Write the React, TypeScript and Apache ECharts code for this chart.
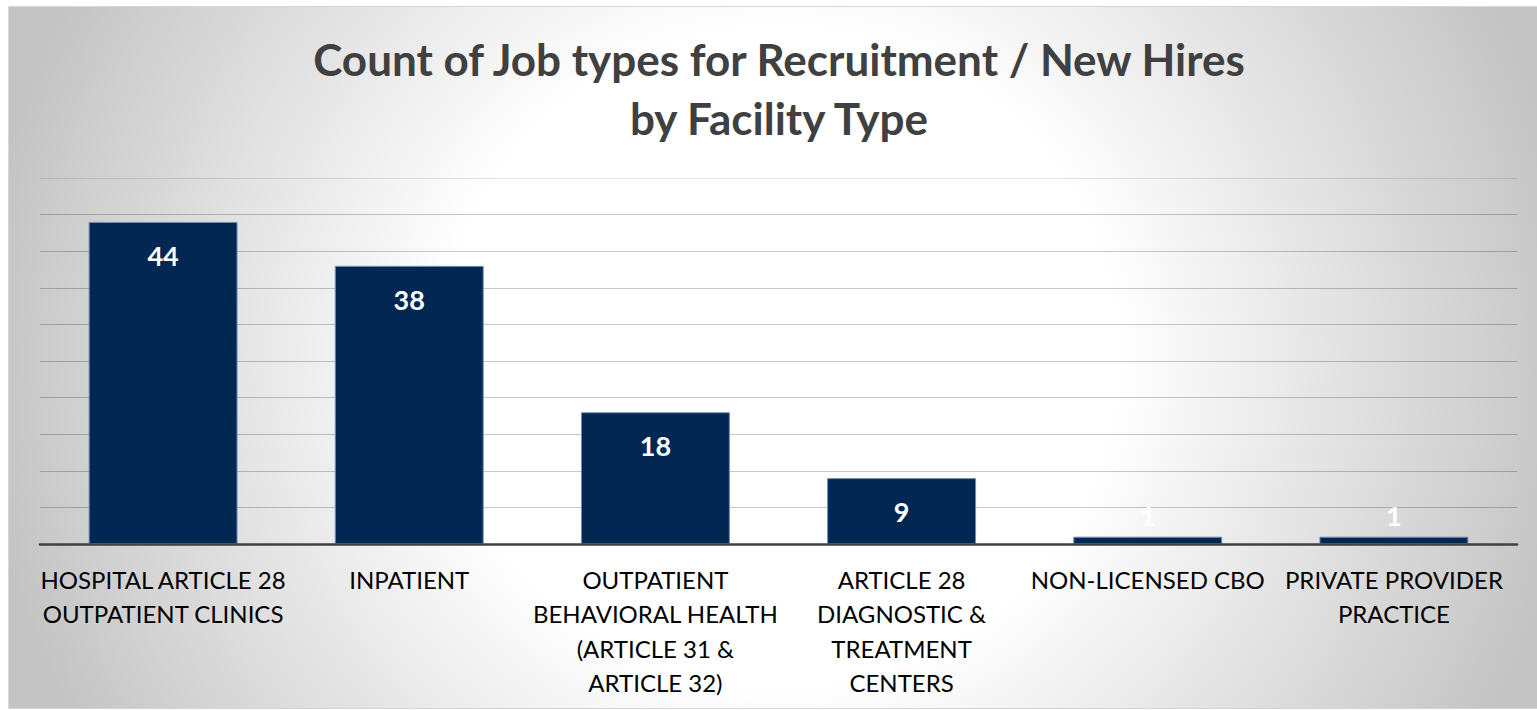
import React, { useEffect, useRef } from 'react';
import * as echarts from 'echarts';

// ---- data ----
const categories = [
  'HOSPITAL ARTICLE 28\nOUTPATIENT CLINICS',
  'INPATIENT',
  'OUTPATIENT\nBEHAVIORAL HEALTH\n(ARTICLE 31 &\nARTICLE 32)',
  'ARTICLE 28\nDIAGNOSTIC &\nTREATMENT\nCENTERS',
  'NON-LICENSED CBO',
  'PRIVATE PROVIDER\nPRACTICE',
];
const counts = [44, 38, 18, 9, 1, 1];
const titleLines = ['Count of Job types for Recruitment / New Hires', 'by Facility Type'];
const yMin = 0;
const yMax = 50;
const yStep = 5;

const W = 1537;
const H = 710;

const bgSvg =
  "<svg xmlns='http://www.w3.org/2000/svg' width='1528' height='701' viewBox='0 0 1528 701'>" +
  "<defs><radialGradient id='g' gradientUnits='userSpaceOnUse' cx='0' cy='0' r='1' gradientTransform='translate(771 350) scale(800 780)'>" +
  "<stop offset='0' stop-color='#ffffff'/><stop offset='0.42' stop-color='#ffffff'/><stop offset='1' stop-color='#c4c4c4'/>" +
  "</radialGradient></defs><rect x='0' y='0' width='1528' height='701' fill='url(#g)'/></svg>";
const bgUrl = 'data:image/svg+xml;charset=utf-8,' + encodeURIComponent(bgSvg);

export default function App() {
  const ref = useRef<HTMLDivElement>(null);

  useEffect(() => {
    if (!ref.current) return;
    const chart = echarts.init(ref.current, undefined, { renderer: 'svg', width: W, height: H });

    const nSplit = Math.round((yMax - yMin) / yStep);
    const splitColors: string[] = [];
    for (let i = 0; i <= nSplit; i++) splitColors.push(i === nSplit ? 'rgba(0,0,0,0.1)' : 'rgba(0,0,0,0.22)');

    const barData = counts.map((v) =>
      v < 3
        ? { value: v, label: { position: 'top', distance: 8 } }
        : { value: v }
    );

    chart.setOption({
      animation: false,
      graphic: {
        elements: [
          {
            type: 'image',
            z: -10,
            silent: true,
            style: { image: bgUrl, x: 9, y: 7, width: 1528, height: 701 },
          },
          {
            type: 'rect',
            z: -9,
            silent: true,
            shape: { x: 8.5, y: 6.5, width: 1530, height: 702 },
            style: { fill: 'none', stroke: '#d6d6d6', lineWidth: 1 },
          },
          {
            type: 'text',
            z: 10,
            x: 779,
            y: 29,
            style: {
              text: titleLines.join('\n'),
              fontFamily: 'Lato',
              fontWeight: 'bold',
              fontSize: 44,
              lineHeight: 59,
              fill: '#404040',
              align: 'center',
              verticalAlign: 'top',
            },
          },
        ],
      },
      grid: { left: 40, right: 20, top: 178, bottom: H - 544 },
      xAxis: {
        type: 'category',
        data: categories,
        axisTick: { show: false },
        axisLine: { show: true, lineStyle: { color: '#404040', width: 2.5 } },
        axisLabel: {
          interval: 0,
          margin: 18,
          color: '#000000',
          fontFamily: 'Lato',
          fontSize: 24,
          lineHeight: 34.5,
          align: 'center',
        },
        z: 5,
      },
      yAxis: {
        type: 'value',
        min: yMin,
        max: yMax,
        interval: yStep,
        axisLabel: { show: false },
        axisLine: { show: false },
        axisTick: { show: false },
        splitLine: { show: true, lineStyle: { color: splitColors, width: 1 } },
      },
      series: [
        {
          type: 'bar',
          data: barData,
          barWidth: '60.5%',
          itemStyle: { color: '#022752', borderColor: '#7190b5', borderWidth: 1 },
          label: {
            show: true,
            position: 'insideTop',
            distance: 20,
            color: '#ffffff',
            fontFamily: 'Lato',
            fontWeight: 'bold',
            fontSize: 27,
          },
        },
      ],
    });

    return () => chart.dispose();
  }, []);

  return (
    <div
      ref={ref}
      style={{ position: 'fixed', left: 0, top: 0, width: W, height: H, background: '#ffffff' }}
    />
  );
}
